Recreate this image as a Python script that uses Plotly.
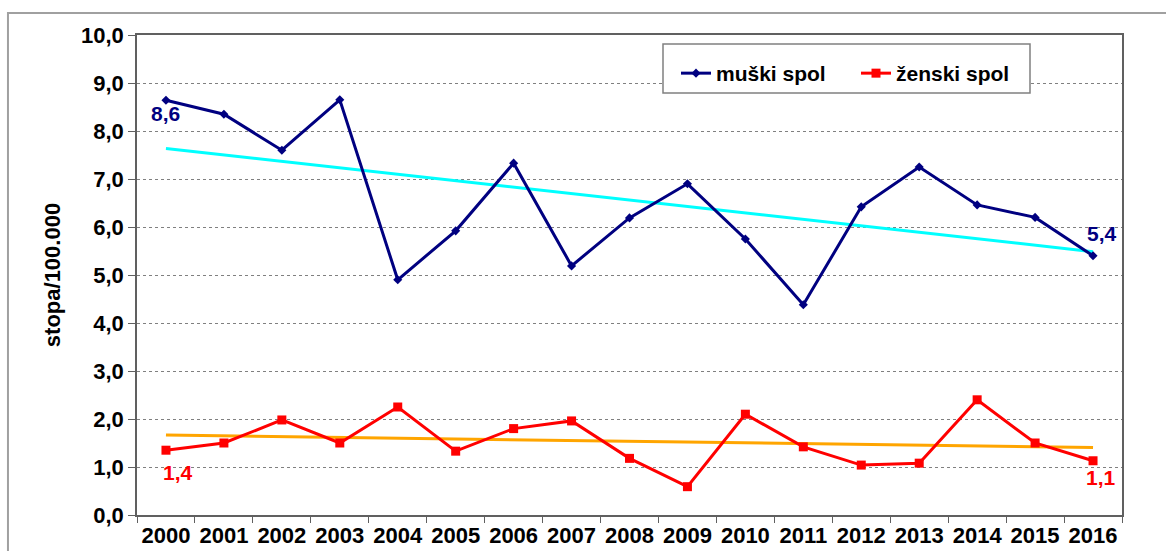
import numpy as np
import plotly.graph_objects as go

years = [str(y) for y in range(2000, 2017)]
male = [8.64, 8.35, 7.60, 8.65, 4.90, 5.92, 7.33, 5.19, 6.19, 6.90, 5.75, 4.38, 6.42, 7.25, 6.46, 6.20, 5.40]
female = [1.35, 1.50, 1.98, 1.50, 2.25, 1.33, 1.80, 1.96, 1.18, 0.59, 2.10, 1.42, 1.04, 1.08, 2.40, 1.50, 1.13]
y_ticks = [0, 1, 2, 3, 4, 5, 6, 7, 8, 9, 10]
y_ticktext = ["0,0", "1,0", "2,0", "3,0", "4,0", "5,0", "6,0", "7,0", "8,0", "9,0", "10,0"]

idx = np.arange(len(years))
m_fit = np.polyval(np.polyfit(idx, male, 1), idx)
f_fit = np.polyval(np.polyfit(idx, female, 1), idx)

NAVY = "#000080"
RED = "#FF0000"
FONT = "Liberation Sans, Arial, sans-serif"

fig = go.Figure()
fig.add_trace(go.Scatter(x=idx, y=m_fit, mode="lines", line=dict(color="#00FFFF", width=3),
                         showlegend=False, hoverinfo="skip"))
fig.add_trace(go.Scatter(x=idx, y=f_fit, mode="lines", line=dict(color="#FFA500", width=3),
                         showlegend=False, hoverinfo="skip"))
fig.add_trace(go.Scatter(x=idx, y=male, mode="lines+markers", name="<b>muški spol</b>",
                         line=dict(color=NAVY, width=3),
                         marker=dict(symbol="diamond", size=7, color=NAVY)))
fig.add_trace(go.Scatter(x=idx, y=female, mode="lines+markers", name="<b>ženski spol</b>",
                         line=dict(color=RED, width=3),
                         marker=dict(symbol="square", size=9, color=RED)))

def fmt(v):
    return f"{v:.1f}".replace(".", ",")

first, last = int(idx[0]), int(idx[-1])
labels = [
    (first, male[0], NAVY, 0, -13),
    (last, male[-1], NAVY, 9, 22),
    (first, female[0], RED, 12, -22),
    (last, female[-1], RED, 8, -17),
]
for xv, yv, col, dx, dy in labels:
    fig.add_annotation(x=xv, y=yv, xref="x", yref="y", text="<b>" + fmt(yv) + "</b>",
                       showarrow=False, xshift=dx, yshift=dy,
                       font=dict(family=FONT, size=21, color=col))

# outer chart border
fig.add_shape(type="rect", xref="paper", yref="paper", x0=-0.131, x1=1.2, y0=-0.3, y1=1.0458,
              line=dict(color="#A0A0A0", width=2), layer="below")
# legend box
fig.add_shape(type="rect", xref="paper", yref="paper",
              x0=(663 - 137) / 985, x1=(1030 - 137) / 985,
              y0=(515 - 93) / 480, y1=(515 - 44) / 480,
              line=dict(color="#808080", width=1.5), fillcolor="white", layer="above")

fig.update_layout(
    width=1166, height=551,
    margin=dict(l=137, r=44, t=35, b=36, autoexpand=False),
    paper_bgcolor="white", plot_bgcolor="white",
    font=dict(family=FONT, color="#000000"),
    legend=dict(orientation="h", x=(676 - 137) / 985, y=(515 - 53) / 480, xanchor="left", yanchor="top",
                bgcolor="rgba(0,0,0,0)", borderwidth=0,
                font=dict(family=FONT, size=21, color="#000000"),
                traceorder="normal", entrywidth=135, entrywidthmode="pixels"),
    showlegend=True,
)
fig.update_xaxes(range=[-0.5, 16.5], tickmode="array", tickvals=idx, ticktext=["<b>" + y + "</b>" for y in years],
                 ticks="", showline=True, linecolor="#606060", linewidth=1.5, mirror=True,
                 showgrid=False, zeroline=False, automargin=False,
                 tickfont=dict(family=FONT, size=22, color="#000000"))
# ticks at category boundaries
fig.update_xaxes(minor=dict(tickmode="array", tickvals=list(idx - 0.5) + [idx[-1] + 0.5],
                            ticks="outside", ticklen=6, tickcolor="#606060", showgrid=False))
fig.update_yaxes(range=[0, 10], tickvals=y_ticks, ticktext=["<b>" + t + "</b>" for t in y_ticktext],
                 ticks="outside", ticklen=7, tickcolor="#606060",
                 showline=True, linecolor="#606060", linewidth=1.5, mirror=True,
                 showgrid=True, gridcolor="#808080", gridwidth=1, griddash="dot",
                 zeroline=False, automargin=False,
                 tickfont=dict(family=FONT, size=22, color="#000000"),
                 title=dict(text="<b>stopa/100.000</b>", font=dict(family=FONT, size=22, color="#000000"),
                            standoff=14))

fig.write_html("out.html", post_script="document.body.style.margin='0';",
               config={"displayModeBar": False})
